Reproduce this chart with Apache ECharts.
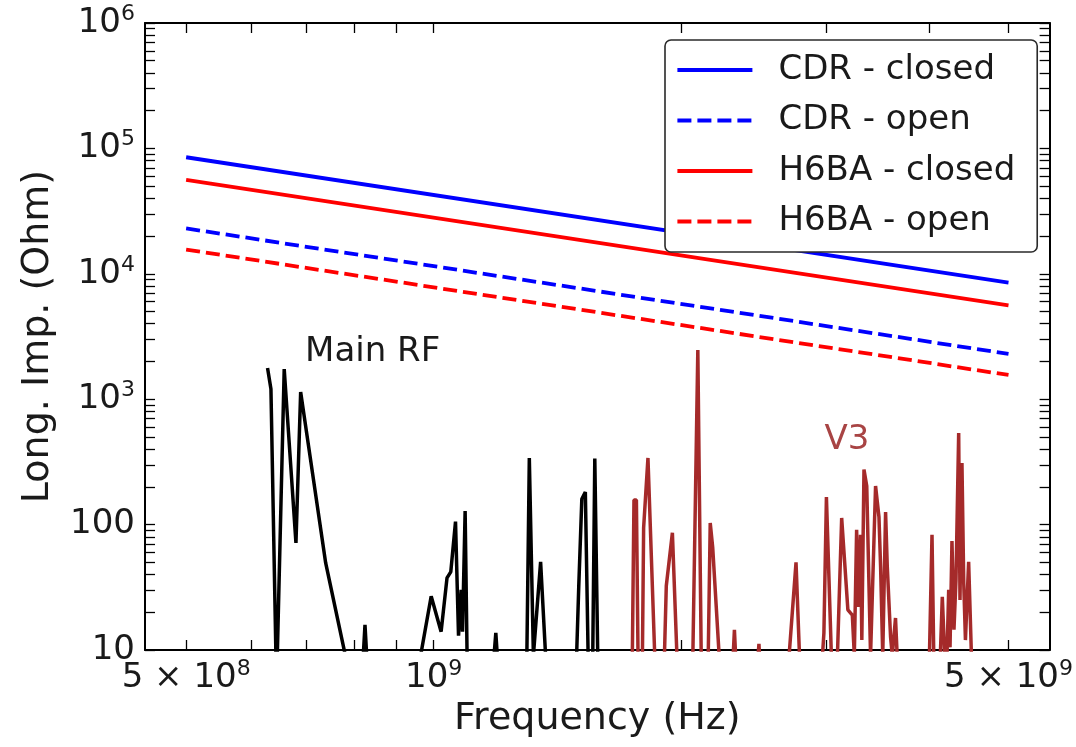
<!DOCTYPE html>
<html><head><meta charset="utf-8">
<script src="https://cdn.jsdelivr.net/npm/echarts@6/dist/echarts.min.js"></script>
<style>html,body{margin:0;padding:0;background:#fff;}#c{width:1076px;height:747px;}</style>
</head><body><div id="c"></div>
<script>
// ---- data ----
const lineFreq = [5e8, 5e9];
const cdrClosed = [8.5e4, 8.5e3];
const cdrOpen = [2.3e4, 2.3e3];
const h6baClosed = [5.6e4, 5.6e3];
const h6baOpen = [1.56e4, 1.56e3];

const mainRfFreq = [6.28e8, 6.34e8, 6.44e8, 6.58e8, 6.80e8, 6.89e8, 7.39e8, 7.81e8, 8.21e8, 8.25e8, 8.29e8,
  9.64e8, 9.93e8, 1.021e9, 1.038e9, 1.049e9, 1.063e9, 1.072e9, 1.080e9, 1.084e9, 1.092e9, 1.098e9,
  1.184e9, 1.190e9, 1.195e9, 1.298e9, 1.307e9, 1.322e9, 1.349e9, 1.368e9,
  1.492e9, 1.501e9, 1.514e9, 1.529e9, 1.541e9, 1.561e9, 1.570e9, 1.583e9];
const mainRfImp = [1774, 1205, 5, 1741, 71.5, 1141, 49.5, 9, 9, 15.9, 9,
  9, 26.8, 14.0, 37.6, 42, 105.7, 13, 30.2, 14, 128.5, 9,
  9, 13.7, 9, 9, 340, 9, 50.5, 9,
  9, 31.9, 160, 182, 9, 9, 337, 9];

const v3Freq = [1.744e9, 1.752e9, 1.764e9, 1.772e9, 1.794e9, 1.800e9, 1.822e9, 1.857e9, 1.908e9, 1.918e9,
  1.951e9, 1.976e9, 2.066e9, 2.095e9, 2.115e9, 2.157e9, 2.169e9, 2.184e9, 2.224e9, 2.313e9,
  2.321e9, 2.329e9, 2.480e9, 2.486e9, 2.490e9, 2.705e9, 2.758e9, 2.785e9, 2.970e9, 2.982e9,
  3.003e9, 3.045e9, 3.097e9, 3.134e9, 3.189e9, 3.229e9, 3.247e9, 3.268e9, 3.283e9, 3.304e9,
  3.316e9, 3.336e9, 3.362e9, 3.398e9, 3.446e9, 3.479e9, 3.495e9, 3.516e9, 3.544e9, 3.561e9,
  3.594e9, 3.611e9, 3.644e9, 3.661e9, 4.007e9, 4.036e9, 4.056e9, 4.131e9, 4.154e9, 4.182e9,
  4.209e9, 4.229e9, 4.245e9, 4.268e9, 4.292e9, 4.316e9, 4.349e9, 4.365e9, 4.389e9, 4.411e9,
  4.432e9, 4.472e9, 4.507e9];
const v3Imp = [9, 157, 157, 9, 9, 94, 340, 9, 9, 32.5,
  86, 9, 9, 2466, 9, 9, 103, 66, 9, 9,
  14.5, 9, 9, 11.2, 9, 9, 50, 9, 9, 13.7,
  166, 9, 9, 113, 20.9, 19, 9, 90.8, 22, 82.8,
  12, 275, 203, 9, 203, 115, 46, 9, 126, 46,
  12.7, 9, 18, 9, 9, 82.8, 9, 9, 26.5, 9,
  9, 30.2, 10.5, 74, 14.5, 36, 538, 25, 310, 34.3,
  12, 50.5, 9];

const legendNames = ['CDR - closed', 'CDR - open', 'H6BA - closed', 'H6BA - open'];
const xTicks = [5e8, 6e8, 7e8, 8e8, 9e8, 1e9, 2e9, 3e9, 4e9, 5e9];
const xLabelValues = [5e8, 1e9, 5e9];
const yTicks = [10, 20, 30, 40, 50, 60, 70, 80, 90,
  100, 200, 300, 400, 500, 600, 700, 800, 900,
  1e3, 2e3, 3e3, 4e3, 5e3, 6e3, 7e3, 8e3, 9e3,
  1e4, 2e4, 3e4, 4e4, 5e4, 6e4, 7e4, 8e4, 9e4,
  1e5, 2e5, 3e5, 4e5, 5e5, 6e5, 7e5, 8e5, 9e5, 1e6];
const yLabelValues = [10, 100, 1e3, 1e4, 1e5, 1e6];
const annotations = [
  { text: 'Main RF', f: 8.43e8, v: 2377, color: '#1a1a1a' },
  { text: 'V3', f: 3.18e9, v: 473, color: '#a84444' }
];

// ---- styling ----
const FONT = 'DejaVu Sans';
const TXT = '#1a1a1a';
const xMin = 4.456e8, xMax = 5.61e9;
const richLbl = {
  n: { fontSize: 34, fontFamily: FONT, color: TXT, lineHeight: 40 },
  s: { fontSize: 22, fontFamily: FONT, color: TXT, lineHeight: 26, verticalAlign: 'top' }
};
function xFmt(v) {
  const e = Math.floor(Math.log10(v) + 1e-9);
  const m = Math.round(v / Math.pow(10, e));
  return (m === 1 ? '{n|10}' : '{n|' + m + ' \u00d7 10}') + '{s|' + e + '}';
}
function yFmt(v) {
  const e = Math.round(Math.log10(v));
  if (e <= 2) return '{n|' + Math.round(v) + '}';
  return '{n|10}{s|' + e + '}';
}
const tickCommon = { show: true, inside: true, length: 10, lineStyle: { color: '#000', width: 1.3 } };
const axisLineCommon = { show: true, onZero: false, lineStyle: { color: '#000', width: 2 } };

function xAxisDef(pos, withLabels) {
  return {
    type: 'log', logBase: 10, min: xMin, max: xMax, position: pos,
    axisLine: axisLineCommon,
    axisTick: Object.assign({ customValues: xTicks }, tickCommon),
    axisLabel: withLabels ? { show: true, customValues: xLabelValues, formatter: xFmt, rich: richLbl, margin: 8 } : { show: false },
    splitLine: { show: false }, minorTick: { show: false }, minorSplitLine: { show: false },
    name: withLabels ? 'Frequency (Hz)' : '', nameLocation: 'middle', nameGap: 46,
    nameTextStyle: { fontSize: 38, fontFamily: FONT, color: TXT }
  };
}
function yAxisDef(pos, withLabels) {
  return {
    type: 'log', logBase: 10, min: 10, max: 1e6, position: pos,
    axisLine: axisLineCommon,
    axisTick: Object.assign({ customValues: yTicks }, tickCommon),
    axisLabel: withLabels ? { show: true, customValues: yLabelValues, formatter: yFmt, rich: richLbl, margin: 10 } : { show: false },
    splitLine: { show: false }, minorTick: { show: false }, minorSplitLine: { show: false },
    name: withLabels ? 'Long. Imp. (Ohm)' : '', nameLocation: 'middle', nameGap: 88, nameRotate: 90,
    nameTextStyle: { fontSize: 38, fontFamily: FONT, color: TXT }
  };
}
function pairs(xs, ys) { return xs.map((x, i) => [x, ys[i]]); }
function straight(name, ys, color, dashed) {
  return {
    name: name, type: 'line', data: pairs(lineFreq, ys), symbol: 'none', showSymbol: false,
    xAxisIndex: 0, yAxisIndex: 0, silent: true, z: 3,
    lineStyle: { color: color, width: 3.8, type: dashed ? [14, 6] : 'solid' },
    itemStyle: { color: color }
  };
}

const chart = echarts.init(document.getElementById('c'), null, { renderer: 'canvas' });
const option = {
  animation: false,
  backgroundColor: '#fff',
  grid: { left: 145, right: 23, top: 23, bottom: 97, containLabel: false },
  xAxis: [xAxisDef('bottom', true), xAxisDef('top', false)],
  yAxis: [yAxisDef('left', true), yAxisDef('right', false)],
  legend: {
    data: legendNames, orient: 'vertical', left: 665, top: 40,
    padding: [13, 22, 13.5, 10.5], itemGap: 16.5, itemWidth: 75, itemHeight: 14,
    backgroundColor: '#fff', borderColor: '#2a2a2a', borderWidth: 1.6, borderRadius: 6,
    itemStyle: { opacity: 0 },
    lineStyle: { width: 3.8 },
    formatter: n => '{t|' + n + '}',
    textStyle: { rich: { t: { fontSize: 34, fontFamily: FONT, color: TXT, lineHeight: 40, padding: [0, 0, 0, 21] } } },
    selectedMode: false, z: 10
  },
  series: [
    {
      name: 'Main RF', type: 'line', data: pairs(mainRfFreq, mainRfImp), symbol: 'none', showSymbol: false,
      clip: true, silent: true, z: 2, lineStyle: { color: '#000', width: 3.5 }, itemStyle: { color: '#000' }
    },
    {
      name: 'V3', type: 'line', data: pairs(v3Freq, v3Imp), symbol: 'none', showSymbol: false,
      clip: true, silent: true, z: 2, lineStyle: { color: '#a52a2a', width: 3.5 }, itemStyle: { color: '#a52a2a' }
    },
    straight('CDR - closed', cdrClosed, '#0000ff', false),
    straight('CDR - open', cdrOpen, '#0000ff', true),
    straight('H6BA - closed', h6baClosed, '#ff0000', false),
    straight('H6BA - open', h6baOpen, '#ff0000', true)
  ]
};
chart.setOption(option);
const g = annotations.map(a => {
  const p = chart.convertToPixel({ xAxisIndex: 0, yAxisIndex: 0 }, [a.f, a.v]);
  return {
    type: 'text', x: p[0], y: p[1], z: 20,
    style: { text: a.text, fill: a.color, font: '34px "' + FONT + '"', align: 'center', verticalAlign: 'middle' }
  };
});
chart.setOption({ graphic: g });
</script></body></html>
